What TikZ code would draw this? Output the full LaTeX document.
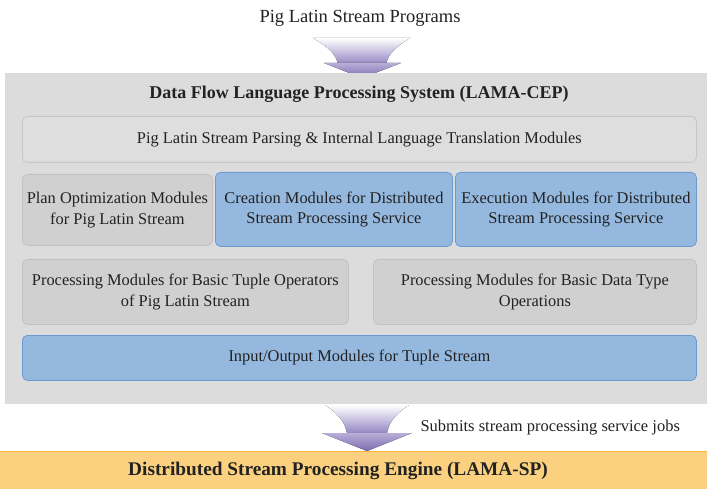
\documentclass[tikz,border=0pt]{standalone}
\usepackage{fontspec}
\setmainfont{Liberation Serif}
\definecolor{outergray}{HTML}{DCDCDC}
\definecolor{lightfill}{HTML}{DEDEDE}
\definecolor{lightbord}{HTML}{C6C6C6}
\definecolor{midfill}{HTML}{D0D0D0}
\definecolor{midbord}{HTML}{C2C2C2}
\definecolor{bluefill}{HTML}{95B8DF}
\definecolor{bluebord}{HTML}{6C9BD2}
\definecolor{orangefill}{HTML}{FBD17F}
\definecolor{orangebord}{HTML}{F4B539}
\definecolor{txt}{HTML}{222222}
\definecolor{arrowlight}{HTML}{B9AED8}
\definecolor{arrowdark}{HTML}{7D6CAF}
\definecolor{arrowmid}{HTML}{9487C2}
\begin{document}
\begin{tikzpicture}[x=1pt,y=-1pt,
  font=\fontsize{16.4}{20.5}\selectfont, text=txt,
  modbox/.style={rounded corners=5pt, line width=0.8pt, align=center, inner sep=0pt, anchor=north west},
  graybox/.style={modbox, draw=lightbord, fill=lightfill},
  darkbox/.style={modbox, draw=midbord, fill=midfill},
  bluebox/.style={modbox, draw=bluebord, fill=bluefill},
  funnel/.style={top color=white, bottom color=arrowmid, draw=none},
  arrowhead/.style={top color=arrowlight, bottom color=arrowdark, draw=none}]
\useasboundingbox (0,0) rectangle (707,489);
% top label
\node[font=\fontsize{18.5}{22}\selectfont] (prog) at (360,18) {Pig Latin Stream Programs};
% top block arrow
\fill[funnel] (313,38) .. controls (330,48) and (336,55) .. (338,64) -- (386,64) .. controls (388,55) and (394,48) .. (410,38) -- cycle;
\fill[arrowhead] (324,63) -- (401,63) -- (362,78) -- cycle;
% system box
\node[fill=outergray, minimum width=702pt, minimum height=331pt, inner sep=0pt, anchor=north west] (sys) at (5,73) {};
\node[font=\fontsize{18}{21}\selectfont\bfseries] (title) at (359,94) {Data Flow Language Processing System (LAMA-CEP)};
\node[graybox, minimum width=674pt, minimum height=46pt] (parse) at (22,116) {Pig Latin Stream Parsing \& Internal Language Translation Modules};
\node[darkbox, minimum width=190pt, minimum height=71pt] (plan) at (22,174) {Plan Optimization Modules\\for Pig Latin Stream};
\node[bluebox, minimum width=237pt, minimum height=74pt] (create) at (215,172) {Creation Modules for Distributed\\Stream Processing Service};
\node[bluebox, minimum width=241pt, minimum height=74pt] (exec) at (455,172) {Execution Modules for Distributed\\Stream Processing Service};
\node[darkbox, minimum width=326pt, minimum height=65pt] (tuple) at (22,259) {Processing Modules for Basic Tuple Operators\\of Pig Latin Stream};
\node[darkbox, minimum width=323pt, minimum height=65pt] (dtype) at (373,259) {Processing Modules for Basic Data Type\\Operations};
\node[bluebox, minimum width=674pt, minimum height=45pt] (io) at (22,335) {Input/Output Modules for Tuple Stream};
% bottom block arrow
\fill[funnel] (325,405) .. controls (340,415) and (345,423) .. (347,433) -- (387,433) .. controls (389,423) and (394,415) .. (409,405) -- cycle;
\fill[arrowhead] (322,433) -- (412,433) -- (367,451) -- cycle;
\node[anchor=west, font=\fontsize{16.5}{20}\selectfont] (submit) at (417,428) {Submits stream processing service jobs};
% engine
\node[fill=orangefill, minimum width=707pt, minimum height=38pt, inner sep=0pt, anchor=north west] (engine) at (0,451) {};
\draw[orangebord, line width=1pt] (engine.north west) -- (engine.north east);
\node[font=\fontsize{19.3}{22}\selectfont\bfseries] (enginetxt) at (338,471) {Distributed Stream Processing Engine (LAMA-SP)};
\end{tikzpicture}
\end{document}
